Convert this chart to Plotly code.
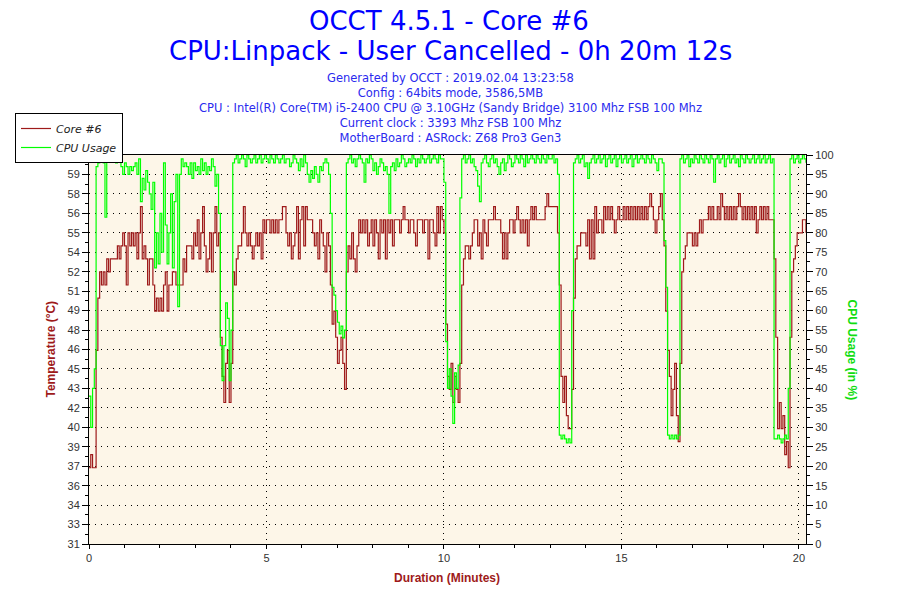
import plotly.graph_objects as go

# ---------------- data ----------------
sample_step_min = 0.05  # one sample every 3 seconds

core_temp = [
    37, 38, 37, 37, 46, 50, 52, 51, 52, 51, 53, 52, 53, 53, 53, 53, 54, 53, 54, 55,
    54, 51, 55, 54, 55, 54, 55, 53, 55, 57, 53, 54, 53, 51, 53, 53, 51, 49, 50, 49,
    50, 49, 51, 52, 49, 51, 51, 52, 52, 51, 51, 51, 51, 53, 52, 54, 54, 54, 53, 55,
    54, 56, 53, 55, 57, 54, 52, 53, 55, 52, 55, 57, 54, 55, 47, 44, 42, 45, 46, 42,
    45, 52, 51, 53, 54, 54, 55, 57, 55, 54, 55, 54, 53, 54, 55, 54, 55, 53, 56, 55,
    56, 56, 55, 56, 55, 56, 55, 56, 56, 57, 57, 55, 54, 55, 53, 54, 55, 57, 53, 56,
    57, 54, 57, 56, 56, 56, 55, 54, 55, 53, 56, 55, 54, 52, 55, 54, 51, 48, 49, 47,
    45, 46, 47, 45, 43, 52, 54, 53, 55, 53, 52, 54, 56, 55, 56, 55, 56, 54, 55, 56,
    54, 56, 55, 53, 56, 55, 56, 53, 56, 55, 56, 54, 56, 56, 56, 55, 56, 57, 56, 56,
    55, 56, 56, 55, 54, 56, 56, 56, 55, 56, 56, 53, 56, 56, 55, 54, 57, 55, 57, 56,
    55, 48, 44, 43, 45, 42, 44, 43, 42, 45, 51, 53, 54, 54, 53, 54, 55, 56, 56, 54,
    55, 53, 56, 55, 54, 56, 56, 56, 57, 56, 56, 56, 55, 53, 55, 53, 55, 56, 56, 55,
    56, 57, 56, 55, 56, 55, 56, 54, 56, 57, 56, 57, 56, 56, 56, 56, 56, 57, 58, 57,
    57, 57, 57, 57, 55, 51, 44, 42, 44, 41, 40, 40, 43, 50, 53, 54, 54, 55, 55, 55,
    54, 56, 53, 56, 53, 57, 55, 56, 56, 55, 57, 56, 57, 56, 57, 56, 55, 56, 57, 56,
    56, 57, 56, 57, 56, 57, 56, 57, 56, 57, 56, 57, 56, 57, 56, 57, 58, 57, 56, 55,
    56, 57, 58, 56, 54, 49, 46, 44, 41, 43, 45, 41, 39, 45, 52, 53, 54, 55, 55, 55,
    54, 55, 54, 55, 56, 55, 56, 56, 56, 57, 56, 57, 56, 56, 57, 56, 58, 57, 56, 57,
    56, 57, 56, 57, 56, 57, 58, 57, 56, 57, 56, 57, 56, 57, 56, 57, 55, 56, 57, 56,
    57, 56, 57, 56, 56, 56, 53, 47, 40, 42, 40, 41, 38, 39, 37, 47, 52, 53, 54, 55,
    55, 55, 56, 56, 55,
]

cpu_usage = [
    38, 30, 40, 45, 97, 98, 100, 99, 98, 84, 99, 100, 99, 100, 99, 98, 99, 100, 97, 95,
    98, 97, 95, 97, 96, 97, 98, 95, 99, 88, 94, 91, 96, 93, 90, 86, 93, 71, 80, 72,
    85, 75, 98, 82, 72, 80, 90, 71, 88, 95, 61, 95, 99, 97, 98, 97, 95, 98, 94, 98,
    96, 97, 95, 99, 96, 98, 95, 97, 96, 99, 97, 92, 95, 85, 51, 42, 51, 62, 58, 42,
    55, 98, 99, 100, 98, 99, 100, 99, 97, 100, 99, 98, 99, 100, 98, 99, 100, 98, 99, 100,
    99, 98, 100, 99, 98, 100, 99, 98, 99, 100, 98, 99, 99, 97, 98, 100, 99, 98, 96, 99,
    97, 100, 98, 95, 93, 96, 94, 97, 95, 93, 97, 96, 98, 99, 98, 95, 85, 66, 64, 60,
    57, 54, 56, 53, 55, 98, 99, 100, 98, 99, 97, 99, 100, 99, 98, 93, 99, 98, 100, 99,
    96, 98, 95, 97, 99, 98, 96, 97, 95, 85, 97, 98, 96, 99, 97, 98, 100, 99, 97, 98,
    99, 98, 100, 99, 97, 99, 98, 100, 99, 98, 99, 100, 98, 99, 100, 99, 98, 100, 99, 99,
    93, 52, 40, 45, 38, 31, 44, 40, 46, 89, 99, 100, 98, 99, 100, 98, 99, 97, 96, 92,
    88, 98, 99, 100, 98, 97, 99, 100, 98, 99, 97, 95, 98, 99, 96, 98, 100, 99, 97, 98,
    100, 99, 98, 100, 99, 97, 100, 98, 99, 100, 99, 98, 100, 99, 98, 100, 99, 98, 100, 99,
    99, 100, 98, 99, 95, 28, 27, 28, 27, 26, 27, 26, 60, 98, 99, 100, 98, 99, 100, 97,
    98, 94, 98, 99, 100, 98, 99, 100, 98, 99, 100, 97, 99, 100, 98, 99, 100, 97, 99, 100,
    98, 99, 100, 98, 99, 100, 97, 99, 100, 98, 99, 100, 99, 98, 100, 99, 98, 100, 99, 98,
    96, 99, 99, 98, 78, 66, 28, 27, 28, 27, 28, 27, 28, 99, 100, 98, 99, 100, 97, 99,
    98, 100, 99, 98, 100, 99, 98, 100, 99, 98, 100, 99, 93, 99, 100, 98, 99, 100, 97, 99,
    100, 98, 99, 100, 98, 99, 97, 100, 99, 98, 100, 99, 98, 99, 100, 98, 99, 100, 98, 99,
    100, 98, 99, 100, 98, 99, 27, 27, 28, 27, 26, 27, 28, 27, 40, 99, 100, 98, 99, 100,
    98, 99, 100, 99, 98,
]

minutes = [round(i * sample_step_min, 2) for i in range(len(core_temp))]

x_ticks = [0, 5, 10, 15, 20]
temp_axis_min = 31.16
temp_axis_step = 1.49
temp_tick_labels = ["31", "33", "34", "36", "37", "39", "40", "42", "43", "45", "46",
                    "48", "49", "51", "52", "54", "55", "56", "58", "59", "61"]
cpu_ticks = list(range(0, 101, 5))

title_lines = ["OCCT 4.5.1 - Core #6", "CPU:Linpack - User Cancelled - 0h 20m 12s"]
info_lines = [
    "Generated by OCCT : 2019.02.04 13:23:58",
    "Config : 64bits mode, 3586,5MB",
    "CPU : Intel(R) Core(TM) i5-2400 CPU @ 3.10GHz (Sandy Bridge) 3100 Mhz FSB 100 Mhz",
    "Current clock : 3393 Mhz FSB 100 Mhz",
    "MotherBoard : ASRock: Z68 Pro3 Gen3",
]

# ---------------- styling ----------------
RED = "#9E1A1A"
GREEN = "#00FF00"
GREEN_TXT = "#11DD11"
L, R, T, B = 89, 806, 155, 544          # plot area in pixels
PW, PH = R - L, B - T


def px_x(px):
    return (px - L) / PW


def px_y(py):
    return (B - py) / PH


temp_tickvals = [temp_axis_min + temp_axis_step * k for k in range(len(temp_tick_labels))]
temp_minor = [v + temp_axis_step / 2 for v in temp_tickvals[:-1]]
temp_range = [temp_axis_min, temp_tickvals[-1]]
cpu_minor = [v + 2.5 for v in cpu_ticks[:-1]]
x_range = [0, 20.2]

fig = go.Figure()
fig.add_trace(go.Scatter(x=minutes, y=core_temp, name="Core #6", mode="lines",
                         line=dict(color=RED, width=1.2, shape="hv"), yaxis="y"))
fig.add_trace(go.Scatter(x=minutes, y=cpu_usage, name="CPU Usage", mode="lines",
                         line=dict(color=GREEN, width=1.2, shape="hv"), yaxis="y2"))

tick_font = dict(family="Liberation Sans, Arial, sans-serif", size=11, color="#333333")
dots = "1px,5px"


def inner_ticks(**kw):
    """Axis that only draws the inner half of crossing tick marks."""
    base = dict(ticks="inside", tickcolor="black", tickwidth=1, showticklabels=False,
                showgrid=False, showline=False, zeroline=False, fixedrange=True)
    base.update(kw)
    return base


fig.update_layout(
    width=900, height=600,
    margin=dict(l=L, r=900 - R, t=T, b=600 - B, autoexpand=False),
    paper_bgcolor="white",
    plot_bgcolor="#FDF6E8",
    showlegend=True,
    legend=dict(x=px_x(15), y=px_y(113), xanchor="left", yanchor="top",
                bgcolor="white", bordercolor="black", borderwidth=1,
                font=dict(family="DejaVu Sans, Verdana, sans-serif", size=11, color="#222222",
                          style="italic"),
                itemwidth=30, tracegroupgap=0),
    xaxis=dict(range=x_range, tickmode="array", tickvals=x_ticks,
               ticks="outside", ticklen=4, tickcolor="black", tickwidth=1,
               minor=dict(dtick=1, tick0=0, ticks="outside", ticklen=3, tickcolor="black",
                          showgrid=False),
               showline=True, linecolor="black", linewidth=1, mirror=True,
               showgrid=True, gridcolor="black", gridwidth=1, griddash=dots,
               zeroline=False, tickfont=tick_font),
    xaxis2=inner_ticks(overlaying="x", anchor="y", side="bottom", range=x_range,
                       tickmode="array", tickvals=x_ticks, ticklen=4,
                       minor=dict(dtick=1, tick0=0, ticks="inside", ticklen=3,
                                  tickcolor="black", showgrid=False)),
    yaxis=dict(range=temp_range, tickmode="array", tickvals=temp_tickvals,
               ticktext=temp_tick_labels,
               ticks="outside", ticklen=6, tickcolor="black", tickwidth=1,
               minor=dict(tickmode="array", tickvals=temp_minor,
                          ticks="outside", ticklen=3, tickcolor="black", showgrid=False),
               showline=True, linecolor="black", linewidth=1,
               showgrid=True, gridcolor="black", gridwidth=1, griddash=dots,
               zeroline=False, tickfont=tick_font),
    yaxis2=dict(range=[0, 100], overlaying="y", side="right", tickmode="array",
                tickvals=cpu_ticks,
                ticks="outside", ticklen=6, tickcolor="black", tickwidth=1,
                minor=dict(tickmode="array", tickvals=cpu_minor,
                           ticks="outside", ticklen=3, tickcolor="black", showgrid=False),
                showline=True, linecolor="black", linewidth=1,
                showgrid=False, zeroline=False, tickfont=tick_font),
    yaxis3=inner_ticks(overlaying="y", anchor="x", side="left", range=temp_range,
                       tickmode="array", tickvals=temp_tickvals, ticklen=6,
                       minor=dict(tickmode="array", tickvals=temp_minor, ticks="inside",
                                  ticklen=3, tickcolor="black", showgrid=False)),
    yaxis4=inner_ticks(overlaying="y", anchor="x", side="right", range=[0, 100],
                       tickmode="array", tickvals=cpu_ticks, ticklen=6,
                       minor=dict(tickmode="array", tickvals=cpu_minor, ticks="inside",
                                  ticklen=3, tickcolor="black", showgrid=False)),
)

title_font = dict(family="DejaVu Sans, Verdana, sans-serif", size=26, color="#0000FF")
fig.add_annotation(text=title_lines[0], xref="paper", yref="paper",
                   x=px_x(449), y=px_y(21), xanchor="center", yanchor="middle",
                   showarrow=False, font=title_font)
fig.add_annotation(text=title_lines[1], xref="paper", yref="paper",
                   x=px_x(450), y=px_y(51), xanchor="center", yanchor="middle",
                   showarrow=False, font=title_font)
fig.add_annotation(text="<br>".join(info_lines), xref="paper", yref="paper",
                   x=px_x(450), y=px_y(69), xanchor="center", yanchor="top",
                   showarrow=False, align="center",
                   font=dict(family="DejaVu Sans, Verdana, sans-serif", size=11.5,
                             color="#2A2AEE"))

axis_title_font = dict(family="Liberation Sans, Arial, sans-serif", size=12, weight="bold")
fig.add_annotation(text="Temperature (°C)", xref="paper", yref="paper",
                   x=px_x(50), y=0.5, xanchor="center", yanchor="middle",
                   textangle=-90, showarrow=False,
                   font=dict(color=RED, **axis_title_font))
fig.add_annotation(text="CPU Usage (in %)", xref="paper", yref="paper",
                   x=px_x(852), y=0.5, xanchor="center", yanchor="middle",
                   textangle=90, showarrow=False,
                   font=dict(color=GREEN_TXT, **axis_title_font))
fig.add_annotation(text="Duration (Minutes)", xref="paper", yref="paper",
                   x=px_x(447), y=px_y(578), xanchor="center", yanchor="middle",
                   showarrow=False,
                   font=dict(color=RED, **axis_title_font))

fig.write_html("out.html", config={"displayModeBar": False},
               post_script="document.body.style.margin='0';document.body.style.padding='0';")
